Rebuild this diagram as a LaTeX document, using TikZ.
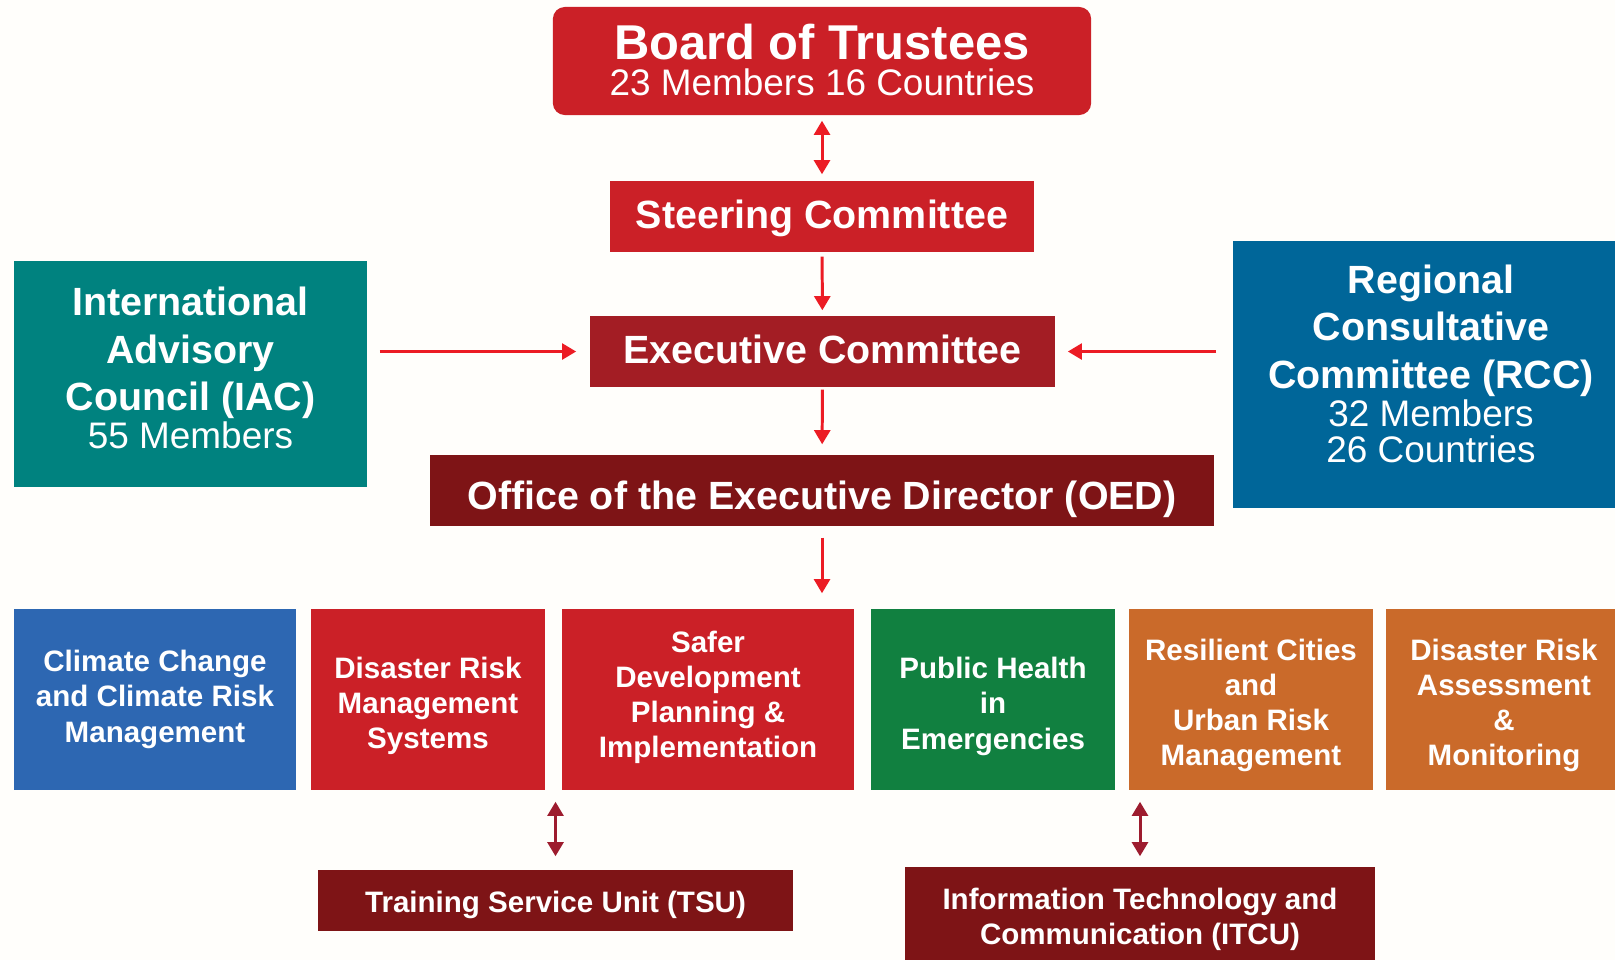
\documentclass[tikz,border=0pt]{standalone}
\usepackage{fontspec}
\setmainfont{Liberation Sans}
\usetikzlibrary{arrows.meta}
\definecolor{paper}{HTML}{FFFEFB}
\definecolor{boardred}{HTML}{CB2027}
\definecolor{execred}{HTML}{A31D24}
\definecolor{oedmaroon}{HTML}{7E1416}
\definecolor{iacteal}{HTML}{00827F}
\definecolor{rccblue}{HTML}{006699}
\definecolor{ccblue}{HTML}{2D67B2}
\definecolor{phgreen}{HTML}{118040}
\definecolor{rcorange}{HTML}{CA6A2A}
\definecolor{arrowred}{HTML}{EC1C24}
\definecolor{linkred}{HTML}{9D1C2E}

\begin{document}
\begin{tikzpicture}[
    x=0.01cm, y=-0.01cm,
    box/.style={
        inner sep=0pt,
        text=white,
        align=center,
        text depth=0pt,
    },
    topbox/.style={
        box,
        font=\bfseries\fontsize{11.2}{13.5}\selectfont,
        minimum height=0.71cm,
    },
    sidebox/.style={
        box,
        font=\bfseries\fontsize{11.2}{13.5}\selectfont,
    },
    unitbox/.style={
        box,
        font=\bfseries\fontsize{8.4}{10}\selectfont,
        minimum height=1.81cm,
    },
    supportbox/.style={
        box,
        fill=oedmaroon,
        font=\bfseries\fontsize{8.4}{10}\selectfont,
    },
    flow/.style={
        draw=arrowred,
        line width=0.85pt,
        -{Triangle[width=4.5pt,length=4pt]},
    },
    twoway/.style={
        flow,
        {Triangle[width=4.5pt,length=4pt]}-{Triangle[width=4.5pt,length=4pt]},
    },
    link/.style={
        twoway,
        draw=linkred,
    },
]

\useasboundingbox[fill=paper] (0,0) rectangle (1615,960);

\node[topbox, fill=boardred, rounded corners=0.12cm, minimum width=5.38cm, minimum height=1.08cm, text height=19.7pt] (BT) at (822,61)
    {{\fontsize{13.9}{13.9}\selectfont Board of Trustees}\\[-3.2pt]{\mdseries\fontsize{10.5}{11.8}\selectfont 23 Members 16 Countries}};
\node[topbox, fill=boardred, minimum width=4.24cm, text height=7pt] (SC) at (822,216.5) {Steering Committee};
\node[topbox, fill=execred, minimum width=4.65cm, text height=6.9pt] (EC) at (822.5,351.5) {Executive Committee};
\node[topbox, fill=oedmaroon, minimum width=7.84cm, text height=11pt] (OED) at (822,490.5) {Office of the Executive Director (OED)};

\node[sidebox, fill=iacteal, minimum width=3.53cm, minimum height=2.26cm, text height=42.4pt] (IAC) at (190.5,374)
    {International\\Advisory\\Council (IAC)\\[-2.7pt]{\mdseries\fontsize{10.5}{10.8}\selectfont 55 Members}};
\node[sidebox, fill=rccblue, minimum width=3.96cm, minimum height=2.67cm, text height=50.3pt] (RCC) at (1431,374.5)
    {Regional\\Consultative\\Committee (RCC)\\[-2.7pt]{\mdseries\fontsize{10.5}{10.8}\selectfont 32 Members}\\[-3pt]{\mdseries\fontsize{10.5}{10.5}\selectfont 26 Countries}};

\node[unitbox, fill=ccblue, minimum width=2.82cm, text height=24.2pt] (U1) at (155,699.5) {Climate Change\\and Climate Risk\\Management};
\node[unitbox, fill=boardred, minimum width=2.34cm, text height=28pt] (U2) at (428,699.5) {Disaster Risk\\Management\\Systems};
\node[unitbox, fill=boardred, minimum width=2.92cm, text height=33.2pt] (U3) at (708,699.5) {Safer\\Development\\Planning \&\\Implementation};
\node[unitbox, fill=phgreen, minimum width=2.44cm, text height=28.2pt] (U4) at (993,699.5) {Public Health\\in\\Emergencies};
\node[unitbox, fill=rcorange, minimum width=2.44cm, text height=37.7pt] (U5) at (1251,699.5) {Resilient Cities\\and\\Urban Risk\\Management};
\node[unitbox, fill=rcorange, minimum width=2.36cm, text height=37.7pt] (U6) at (1504,699.5) {Disaster Risk\\Assessment\\\&\\Monitoring};

\node[supportbox, minimum width=4.75cm, minimum height=0.61cm, text height=6.7pt] (TSU) at (555.5,900.5) {Training Service Unit (TSU)};
\node[supportbox, minimum width=4.70cm, minimum height=0.93cm, text height=17.9pt] (ITCU) at (1140,913.5) {Information Technology and\\Communication (ITCU)};

\draw[twoway, shorten <=0.05cm, shorten >=0.06cm] (BT) -- (SC);
\draw[flow, shorten <=0.04cm, shorten >=0.05cm] (SC) -- (EC);
\draw[flow, shorten <=0.02cm, shorten >=0.1cm] (EC) -- (OED);
\draw[flow, shorten <=0.11cm, shorten >=0.15cm] (OED) -- (OED.south |- U3.north);
\draw[flow, shorten <=0.12cm, shorten >=0.13cm] (IAC.east |- EC.west) -- (EC.west);
\draw[flow, shorten <=0.16cm, shorten >=0.12cm] (RCC.west |- EC.east) -- (EC.east);
\draw[link, shorten <=0.13cm, shorten >=0.11cm] (TSU.north) -- (TSU.north |- U2.south);
\draw[link, shorten <=0.10cm, shorten >=0.11cm] (ITCU.north) -- (ITCU.north |- U5.south);

\end{tikzpicture}
\end{document}
